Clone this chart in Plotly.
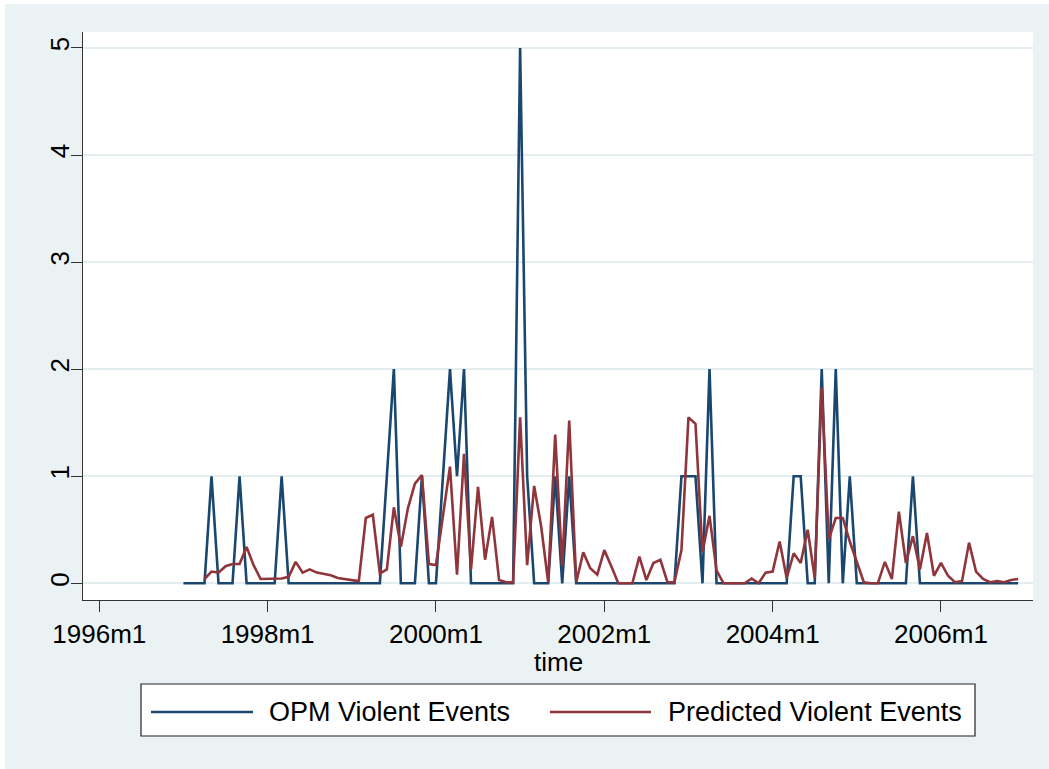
import plotly.graph_objects as go

# Monthly observations, 1997m1 .. 2006m12
start_year, start_month, n_months = 1997, 1, 120
months = [f"{start_year + (start_month - 1 + k) // 12}m{(start_month - 1 + k) % 12 + 1}"
          for k in range(n_months)]

opm_events = [
    0, 0, 0, 0, 1, 0, 0, 0, 1, 0, 0, 0,          # 1997
    0, 0, 1, 0, 0, 0, 0, 0, 0, 0, 0, 0,          # 1998
    0, 0, 0, 0, 0, 1, 2, 0, 0, 0, 1, 0,          # 1999
    0, 1, 2, 1, 2, 0, 0, 0, 0, 0, 0, 0,          # 2000
    5, 1, 0, 0, 0, 1, 0, 1, 0, 0, 0, 0,          # 2001
    0, 0, 0, 0, 0, 0, 0, 0, 0, 0, 0, 1,          # 2002
    1, 1, 0, 2, 0, 0, 0, 0, 0, 0, 0, 0,          # 2003
    0, 0, 0, 1, 1, 0, 0, 2, 0, 2, 0, 1,          # 2004
    0, 0, 0, 0, 0, 0, 0, 0, 1, 0, 0, 0,          # 2005
    0, 0, 0, 0, 0, 0, 0, 0, 0, 0, 0, 0,          # 2006
]

predicted_events = [
    None, None, None, 0.04, 0.11, 0.10, 0.16, 0.18, 0.18, 0.34, 0.17, 0.04,   # 1997
    0.04, 0.04, 0.045, 0.06, 0.20, 0.10, 0.13, 0.10, 0.09, 0.075, 0.05, 0.04,  # 1998
    0.03, 0.02, 0.61, 0.64, 0.09, 0.13, 0.71, 0.34, 0.70, 0.93, 1.01, 0.18,    # 1999
    0.17, 0.63, 1.09, 0.08, 1.21, 0.13, 0.90, 0.22, 0.62, 0.03, 0.01, 0.01,    # 2000
    1.55, 0.17, 0.91, 0.53, 0.01, 1.39, 0.16, 1.52, 0.01, 0.29, 0.14, 0.08,    # 2001
    0.31, 0.16, 0.0, 0.0, 0.0, 0.25, 0.03, 0.19, 0.22, 0.01, 0.01, 0.31,       # 2002
    1.55, 1.49, 0.29, 0.63, 0.12, 0.0, 0.0, 0.0, 0.0, 0.045, 0.0, 0.10,        # 2003
    0.11, 0.39, 0.05, 0.28, 0.19, 0.50, 0.05, 1.83, 0.41, 0.61, 0.61, 0.39,    # 2004
    0.19, 0.01, 0.0, 0.0, 0.20, 0.04, 0.67, 0.19, 0.44, 0.13, 0.47, 0.07,      # 2005
    0.19, 0.07, 0.01, 0.02, 0.38, 0.11, 0.04, 0.01, 0.02, 0.01, 0.03, 0.04,    # 2006
]

x_tick_labels = ["1996m1", "1998m1", "2000m1", "2002m1", "2004m1", "2006m1"]
y_ticks = [0, 1, 2, 3, 4, 5]
series_names = ["OPM Violent Events", "Predicted Violent Events"]
x_title = "time"


def tm(label):
    """Stata %tm code: months since 1960m1."""
    y, m = label.split("m")
    return (int(y) - 1960) * 12 + int(m) - 1


x = [tm(m) for m in months]
tickvals = [tm(t) for t in x_tick_labels]

NAVY = "#1A476F"
MAROON = "#90353B"
BG = "#EAF2F3"
GRID = "#E4EEF0"
FONT = "Liberation Sans, Arial, sans-serif"

fig = go.Figure()
fig.add_trace(go.Scatter(x=x, y=opm_events, mode="lines", name=series_names[0],
                         line=dict(color=NAVY, width=2.6)))
fig.add_trace(go.Scatter(x=x, y=predicted_events, mode="lines", name=series_names[1],
                         line=dict(color=MAROON, width=2.6), connectgaps=False))

W, H = 1049, 769
L, R, T, B = 83, 1033, 32, 600
pw, ph = R - L, B - T


def px(X):
    return (X - L) / pw


def py(Y):
    return (B - Y) / ph


shapes = [
    # thin white border at the top and left of the page
    dict(type="rect", xref="paper", yref="paper", x0=px(0), x1=px(W), y0=py(4), y1=py(0),
         fillcolor="white", line=dict(width=0), layer="below"),
    dict(type="rect", xref="paper", yref="paper", x0=px(0), x1=px(5), y0=py(H), y1=py(0),
         fillcolor="white", line=dict(width=0), layer="below"),
    # legend box and keys
    dict(type="rect", xref="paper", yref="paper", x0=px(141), x1=px(975), y0=py(736), y1=py(684),
         fillcolor="white", line=dict(color="#222222", width=1.2)),
    dict(type="line", xref="paper", yref="paper", x0=px(151), x1=px(253), y0=py(712), y1=py(712),
         line=dict(color=NAVY, width=2.6)),
    dict(type="line", xref="paper", yref="paper", x0=px(550), x1=px(651), y0=py(712), y1=py(712),
         line=dict(color=MAROON, width=2.6)),
]

annotations = [
    dict(xref="paper", yref="paper", x=0.5, y=py(662), xanchor="center", yanchor="middle",
         text=x_title, showarrow=False, font=dict(family=FONT, size=26, color="black")),
    dict(xref="paper", yref="paper", x=px(267), y=py(712), xanchor="left", yanchor="middle",
         text=series_names[0], showarrow=False, font=dict(family=FONT, size=27, color="black")),
    dict(xref="paper", yref="paper", x=px(666), y=py(712), xanchor="left", yanchor="middle",
         text=series_names[1], showarrow=False, font=dict(family=FONT, size=27, color="black")),
]

fig.update_layout(
    width=W, height=H,
    margin=dict(l=L, r=W - R, t=T, b=H - B, autoexpand=False),
    paper_bgcolor=BG, plot_bgcolor="white",
    font=dict(family=FONT, size=26, color="black"),
    showlegend=False,
    shapes=shapes, annotations=annotations,
    xaxis=dict(
        range=[429.68, 565.12], tickvals=tickvals, ticktext=x_tick_labels,
        showgrid=False, zeroline=False, showline=True, linecolor="#333333", linewidth=1.3,
        ticks="outside", ticklen=11, tickcolor="#333333", tickwidth=1.3,
        tickfont=dict(family=FONT, size=26, color="black"),
        automargin=False,
    ),
    yaxis=dict(
        range=[-0.156, 5.149], tickvals=y_ticks, tickangle=-90, ticklabelstandoff=-9,
        showgrid=True, gridcolor=GRID, gridwidth=1.7, zeroline=False,
        showline=True, linecolor="#333333", linewidth=1.3,
        ticks="outside", ticklen=11, tickcolor="#333333", tickwidth=1.3,
        tickfont=dict(family=FONT, size=26, color="black"),
        automargin=False,
    ),
)

fig.write_html("out.html")
